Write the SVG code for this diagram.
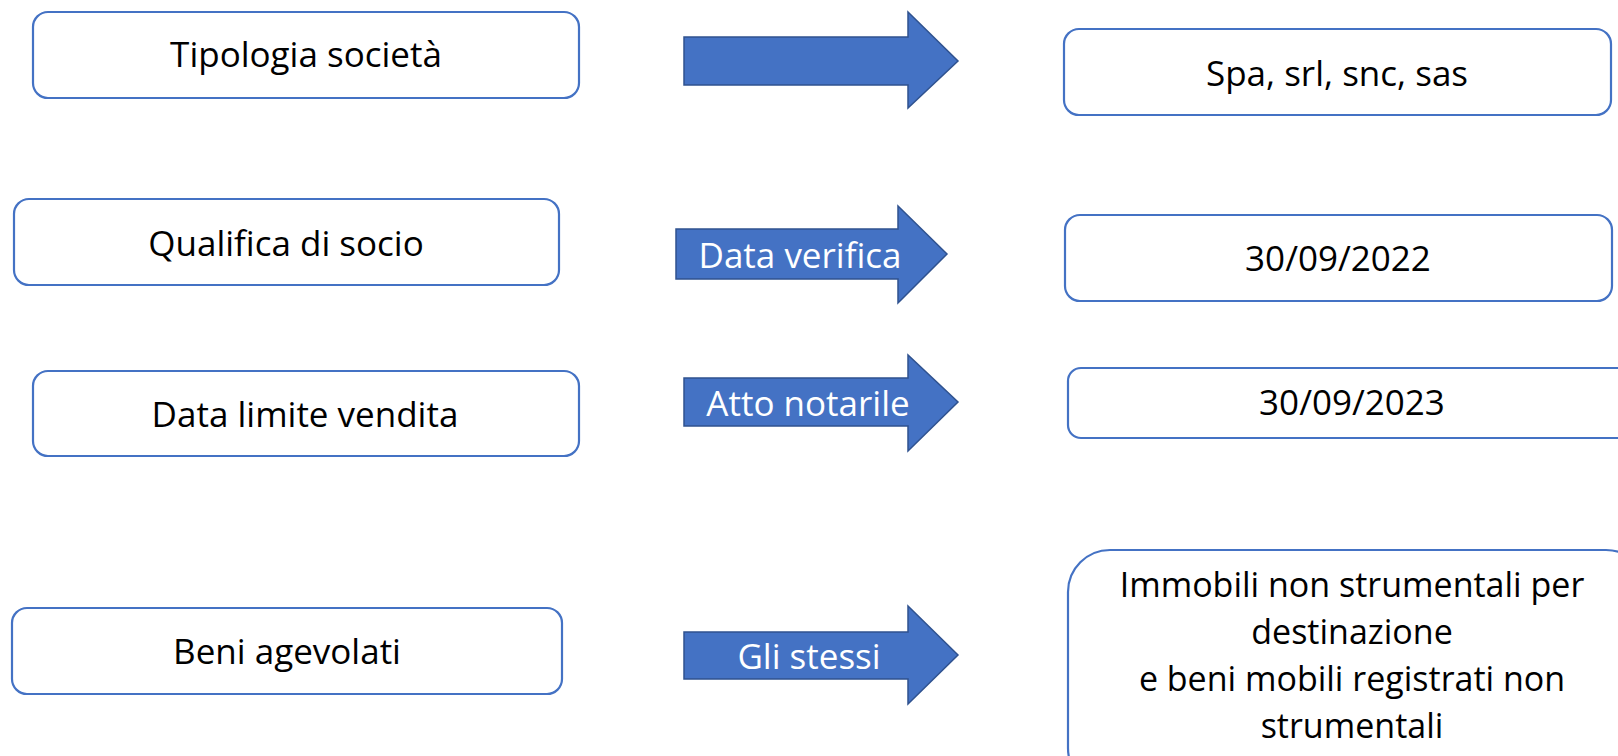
<svg xmlns="http://www.w3.org/2000/svg" width="1618" height="756" viewBox="0 0 1618 756">
<style>
.box{fill:#fff;stroke:#4472C4;stroke-width:2.2}
.arr{fill:#4472C4;stroke:#2F528F;stroke-width:1.5}
.t{font-family:"Open Sans","Noto Sans",sans-serif;font-size:35px;fill:#000;text-anchor:middle;dominant-baseline:central}
.w{font-family:"Open Sans","Noto Sans",sans-serif;font-size:35px;fill:#fff;text-anchor:middle;dominant-baseline:central}
.m{font-size:34px}
</style>
<rect width="1618" height="756" fill="#fff"/>
<g id="connectors">
<g id="arrow1"><polygon class="arr" points="684,37 908,37 908,12 958,61 908,108 908,85 684,85"/></g>
<g id="arrow2"><polygon class="arr" points="676,229 898,229 898,206 947,254 898,303 898,279 676,279"/><text class="w" x="800" y="254">Data verifica</text></g>
<g id="arrow3"><polygon class="arr" points="684,378 908,378 908,355 958,402 908,451 908,426 684,426"/><text class="w" x="808" y="402">Atto notarile</text></g>
<g id="arrow4"><polygon class="arr" points="684,632 908,632 908,606 958,655 908,704 908,679 684,679"/><text class="w" x="809" y="655">Gli stessi</text></g>
</g>
<g id="n1"><rect class="box" x="33" y="12" width="546" height="86" rx="15"/><text class="t" x="306" y="53">Tipologia società</text></g>
<g id="n2"><rect class="box" x="1064" y="29" width="547" height="86" rx="15"/><text class="t" x="1337" y="72">Spa, srl, snc, sas</text></g>
<g id="n3"><rect class="box" x="14" y="199" width="545" height="86" rx="15"/><text class="t" x="286" y="242">Qualifica di socio</text></g>
<g id="n4"><rect class="box" x="1065" y="215" width="547" height="86" rx="15"/><text class="t" x="1338" y="257">30/09/2022</text></g>
<g id="n5"><rect class="box" x="33" y="371" width="546" height="85" rx="15"/><text class="t" x="305" y="413">Data limite vendita</text></g>
<g id="n6"><rect class="box" x="1068" y="368" width="570" height="70" rx="13"/><text class="t" x="1352" y="401">30/09/2023</text></g>
<g id="n7"><rect class="box" x="12" y="608" width="550" height="86" rx="15"/><text class="t" x="287" y="650">Beni agevolati</text></g>
<g id="n8"><rect class="box" x="1068" y="550" width="580" height="240" rx="42"/>
<text class="t m"><tspan x="1352" y="584">Immobili non strumentali per</tspan><tspan x="1352" y="631">destinazione</tspan><tspan x="1352" y="678">e beni mobili registrati non</tspan><tspan x="1352" y="725">strumentali</tspan></text></g>
</svg>
